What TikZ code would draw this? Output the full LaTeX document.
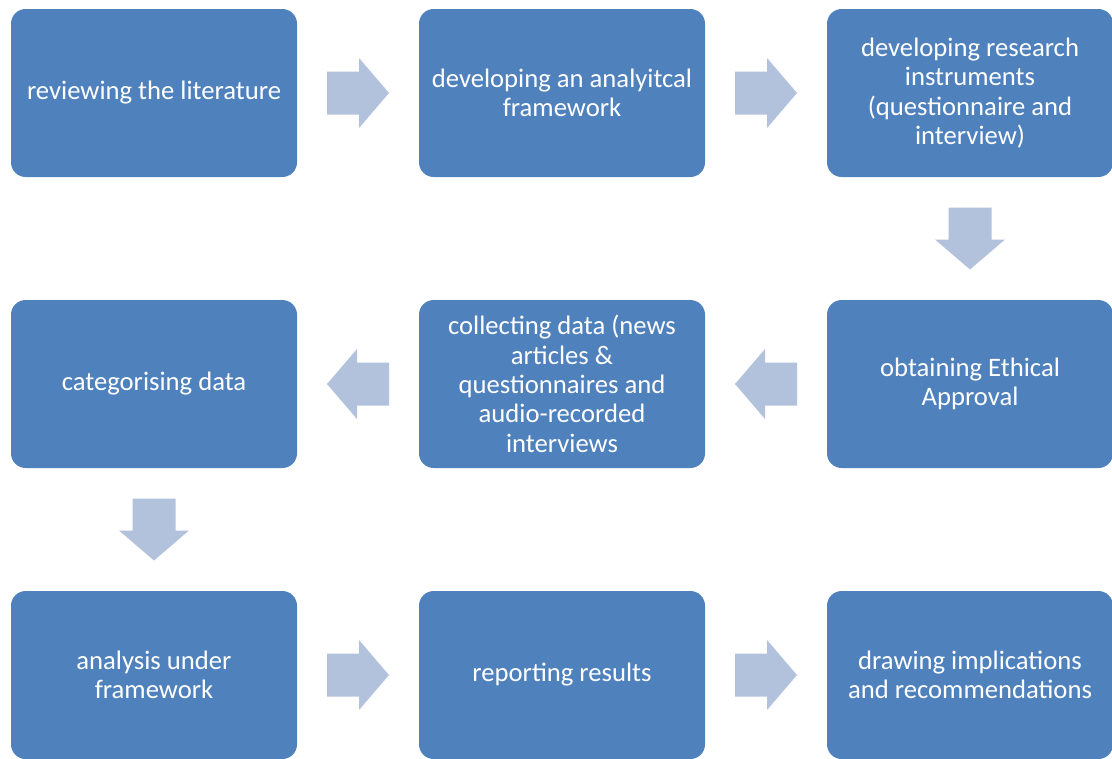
\documentclass[tikz,border=0pt]{standalone}
\usepackage{fontspec}
\setmainfont{Carlito}
\usetikzlibrary{calc}

\definecolor{stageblue}{HTML}{4F81BD}
\definecolor{flowblue}{HTML}{B2C1DC}

\tikzset{
  stage/.style={fill=stageblue, rounded corners=11pt, inner sep=0pt,
    minimum width=214.5pt, minimum height=126pt,
    text=white, align=center, font=\fontsize{20}{22}\selectfont},
  % block arrow, pointing right before rotation
  flow/.pic={
    \fill[flowblue] (-31,-21.5) -- (1,-21.5) -- (1,-35) -- (31,0)
      -- (1,35) -- (1,21.5) -- (-31,21.5) -- cycle;
  },
}

\begin{document}
\begin{tikzpicture}[x=0.75pt, y=-0.75pt]
  \useasboundingbox (0,0) rectangle (1112,758);
  % first row, left to right
  \node[stage] (lit)    at (154,93)  {reviewing the literature};
  \node[stage] (frame)  at (562,93)  {developing an analyitcal\\framework};
  \node[stage] (instr)  at (970,93)  {developing research\\instruments\\(questionnaire and\\interview)};
  % second row, right to left
  \node[stage] (ethics) at (970,384) {obtaining Ethical\\Approval};
  \node[stage] (collect) at (562,384) {collecting data (news\\articles \&\\questionnaires and\\audio-recorded\\interviews};
  \node[stage] (categ)  at (154,384) {categorising data};
  % third row, left to right
  \node[stage] (anal)   at (154,675) {analysis under\\framework};
  \node[stage] (report) at (562,675) {reporting results};
  \node[stage] (implic) at (970,675) {drawing implications\\and recommendations};

  % block arrows between the stages
  \pic            at ($(lit.east)!0.5!(frame.west)$) {flow};
  \pic            at ($(frame.east)!0.5!(instr.west)$) {flow};
  \pic[rotate=-90] at ($(instr.south)!0.5!(ethics.north)$) {flow};
  \pic[rotate=180] at ($(ethics.west)!0.5!(collect.east)$) {flow};
  \pic[rotate=180] at ($(collect.west)!0.5!(categ.east)$) {flow};
  \pic[rotate=-90] at ($(categ.south)!0.5!(anal.north)$) {flow};
  \pic            at ($(anal.east)!0.5!(report.west)$) {flow};
  \pic            at ($(report.east)!0.5!(implic.west)$) {flow};
\end{tikzpicture}
\end{document}
